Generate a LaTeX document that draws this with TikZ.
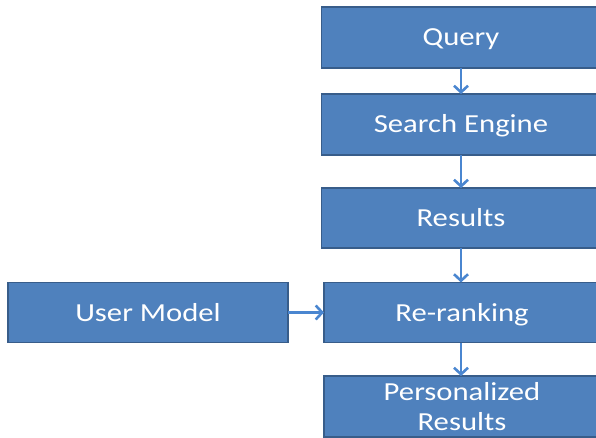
\documentclass[tikz,border=0pt]{standalone}
\usepackage{fontspec}
\setmainfont[FakeStretch=1.18]{Carlito}
\usetikzlibrary{arrows.meta}
\definecolor{boxfill}{HTML}{4F81BD}
\definecolor{boxline}{HTML}{385D8A}
\definecolor{arrowblue}{HTML}{4A86D0}
\tikzset{
  stage/.style={draw=boxline, fill=boxfill, line width=1.8pt, rectangle,
    text=white, font=\fontsize{26}{30}\selectfont, align=center,
    inner sep=0pt, outer sep=0pt},
  oneline/.style={stage, text height=17pt, text depth=0pt},
  flow/.style={draw=arrowblue, line width=2.6pt,
    -{Straight Barb[length=6.5pt,width=14pt,line width=2.6pt]}},
}
\begin{document}
\begin{tikzpicture}[x=1pt,y=-1pt]
  \useasboundingbox (0,0) rectangle (596,438);
  \clip (0,0) rectangle (596,438);
  % pipeline stages (right column runs past the right edge)
  \node[oneline, minimum width=279pt, minimum height=61pt] (query)   at (461,37.5)  {Query};
  \node[oneline, minimum width=279pt, minimum height=61pt] (engine)  at (461,124.5) {Search Engine};
  \node[oneline, minimum width=279pt, minimum height=60pt] (results) at (461,218)   {Results};
  \node[oneline, minimum width=276pt, minimum height=60pt] (rerank)  at (462,312.5) {Re-ranking};
  \node[stage, minimum width=276pt, minimum height=61pt] (personal) at (462,406.5) {Personalized\\Results};
  \node[oneline, minimum width=280pt, minimum height=60pt] (user)    at (148,312.5) {User Model};
  % connectors
  \draw[flow] (query.south -| 461,0) -- (engine.north -| 461,0);
  \draw[flow] (engine.south -| 461,0) -- (results.north -| 461,0);
  \draw[flow] (results.south -| 461,0) -- (rerank.north -| 461,0);
  \draw[flow] (rerank.south -| 461,0) -- (personal.north -| 461,0);
  \draw[flow] (user.east) -- (rerank.west);
\end{tikzpicture}
\end{document}
